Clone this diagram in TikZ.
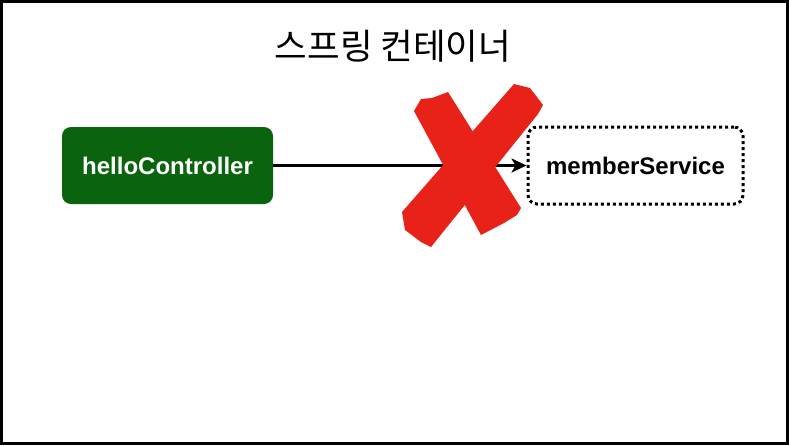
\documentclass[tikz,border=0pt]{standalone}
\usepackage{fontspec}
\setmainfont{Liberation Sans}
\newfontfamily\krfont{Noto Sans CJK KR}
\usepackage{tikz}
\usetikzlibrary{arrows.meta, positioning}
\definecolor{beanGreen}{RGB}{10,100,14}
\definecolor{crossRed}{RGB}{232,34,24}
\tikzset{
  bean/.style = {rounded corners=9pt, minimum width=211pt, minimum height=77pt, font=\fontsize{24}{28}\selectfont\bfseries},
  arrow/.style = {-{Stealth[length=15pt,width=14pt,inset=4pt]}, line width=3.5pt}
}

\begin{document}
\begin{tikzpicture}[x=1pt, y=-1pt]
  \useasboundingbox (0,0) rectangle (789,445);
  \draw[line width=3pt] (1.5,1.5) rectangle (787.5,443.5);

  \node (title) at (393,46) {\krfont\fontsize{35.5}{40}\selectfont 스프링 컨테이너};

  \node[bean, fill=beanGreen, text=white] (ctrl) at (167.5,165.5) {helloController};
  \node[bean, draw, dash pattern=on 3pt off 3pt, line width=3pt, minimum width=215pt] (svc) at (635.5,165.5) {memberService};

  \draw[arrow] (ctrl) -- (svc);

  % red cross over the dependency
  \fill[crossRed] (414,111) -- (421,99) -- (432,98) -- (448,92) -- (521,208)
    -- (517,215) -- (504,223) -- (481,235) -- cycle;
  \fill[crossRed] (514,84) -- (530,88) -- (543,105) -- (538,114) -- (431,247)
    -- (421,242) -- (405,230) -- (402,212) -- cycle;
\end{tikzpicture}
\end{document}
